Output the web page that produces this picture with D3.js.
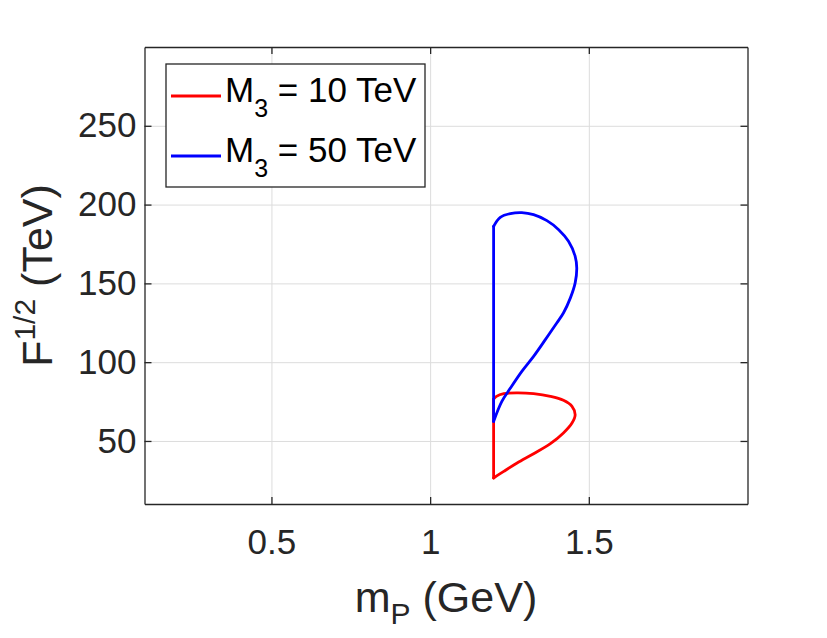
<!DOCTYPE html>
<html>
<head>
<meta charset="utf-8">
<script src="https://cdn.jsdelivr.net/npm/d3@7"></script>
<style>
  body { margin: 0; background: #fff; }
  text { font-family: "Liberation Sans", Arial, sans-serif; }
</style>
</head>
<body>
<div id="chart"></div>
<script>
// values
var xTicks = [0.5, 1, 1.5];
var yTicks = [50, 100, 150, 200, 250];

var seriesNames = ["10", "50"];

// M3 = 10 TeV
var redX = [1.2, 1.2, 1.209, 1.232, 1.274, 1.326, 1.379, 1.420, 1.447, 1.457, 1.447, 1.420, 1.379, 1.326, 1.274, 1.232, 1.2];
var redY = [26.5, 76.6, 78.3, 80.0, 80.5, 80.0, 78.3, 75.8, 72.0, 66.7, 61.4, 55.1, 48.3, 41.9, 36.0, 30.7, 26.5];

// M3 = 50 TeV
var blueX = [1.2, 1.2, 1.221, 1.253, 1.289, 1.326, 1.368, 1.405, 1.436, 1.457, 1.462, 1.457, 1.442, 1.420, 1.399, 1.363, 1.326, 1.289, 1.253, 1.226, 1.2];
var blueY = [62.4, 186.2, 191.9, 194.3, 194.9, 193.6, 189.8, 184.1, 176.7, 167.2, 159.8, 150.3, 140.8, 131.2, 124.9, 114.3, 103.7, 94.2, 83.6, 75.1, 62.4];

var svgWidth = 827;
var svgHeight = 638;

var margin = {
  top: 47,
  right: 79.5,
  bottom: 134,
  left: 144.5
};

var width = svgWidth - margin.left - margin.right;
var height = svgHeight - margin.top - margin.bottom;

var axisColor = "#262626";

var svg = d3
  .select("#chart")
  .append("svg")
  .attr("width", svgWidth)
  .attr("height", svgHeight);

svg.append("rect")
  .attr("width", svgWidth)
  .attr("height", svgHeight)
  .attr("fill", "#fff");

var chartGroup = svg.append("g")
  .attr("transform", `translate(${margin.left}, ${margin.top})`);

var xLinearScale = d3.scaleLinear().domain([0.1, 2]).range([0, width]);
var yLinearScale = d3.scaleLinear().domain([10, 300]).range([height, 0]);

// grid
chartGroup.append("g")
  .attr("transform", `translate(0, ${height})`)
  .call(d3.axisBottom(xLinearScale).tickValues(xTicks).tickSize(-height).tickFormat(""))
  .call(g => g.select(".domain").remove())
  .selectAll("line").attr("stroke", "#dcdcdc").attr("stroke-width", 1);

chartGroup.append("g")
  .call(d3.axisLeft(yLinearScale).tickValues(yTicks).tickSize(-width).tickFormat(""))
  .call(g => g.select(".domain").remove())
  .selectAll("line").attr("stroke", "#dcdcdc").attr("stroke-width", 1);

// curves: straight vertical edge, then a smooth loop back to the start
var straight = d3.line()
  .x(d => xLinearScale(d[0]))
  .y(d => yLinearScale(d[1]));

var smooth = d3.line()
  .x(d => xLinearScale(d[0]))
  .y(d => yLinearScale(d[1]))
  .curve(d3.curveCatmullRom.alpha(0.5));

function drawSeries(xs, ys, color) {
  var pts = xs.map((x, i) => [x, ys[i]]);
  chartGroup.append("path")
    .datum(pts.slice(0, 2))
    .attr("d", straight)
    .attr("fill", "none")
    .attr("stroke", color)
    .attr("stroke-width", 2.8)
    .attr("stroke-linecap", "round");
  chartGroup.append("path")
    .datum(pts.slice(1))
    .attr("d", smooth)
    .attr("fill", "none")
    .attr("stroke", color)
    .attr("stroke-width", 2.8)
    .attr("stroke-linecap", "round")
    .attr("stroke-linejoin", "round");
}

drawSeries(redX, redY, "#ff0000");
drawSeries(blueX, blueY, "#0000ff");

// axes, ticks pointing inward on all four sides
function styleAxis(g) {
  g.select(".domain").attr("stroke", axisColor).attr("stroke-width", 1.3);
  g.selectAll(".tick line").attr("stroke", axisColor).attr("stroke-width", 1.3);
  g.selectAll("text")
    .attr("fill", axisColor)
    .style("font-size", "35px")
    .style("font-family", "'Liberation Sans', Arial, sans-serif");
}

var xAxis = chartGroup.append("g")
  .attr("transform", `translate(0, ${height})`)
  .call(d3.axisBottom(xLinearScale).tickValues(xTicks).tickSizeInner(-7).tickSizeOuter(0)
    .tickPadding(25).tickFormat(d3.format("")))
  .call(styleAxis);

chartGroup.append("g")
  .call(d3.axisTop(xLinearScale).tickValues(xTicks).tickSizeInner(-7).tickSizeOuter(0).tickFormat(""))
  .call(styleAxis);

var yAxis = chartGroup.append("g")
  .call(d3.axisLeft(yLinearScale).tickValues(yTicks).tickSizeInner(-7).tickSizeOuter(0)
    .tickPadding(8))
  .call(styleAxis);

chartGroup.append("g")
  .attr("transform", `translate(${width}, 0)`)
  .call(d3.axisRight(yLinearScale).tickValues(yTicks).tickSizeInner(-7).tickSizeOuter(0).tickFormat(""))
  .call(styleAxis);

// axis labels
var xLabel = svg.append("text")
  .attr("x", margin.left + width / 2)
  .attr("y", 612)
  .attr("text-anchor", "middle")
  .attr("fill", axisColor)
  .style("font-size", "43px");
xLabel.append("tspan").text("m");
xLabel.append("tspan").attr("dy", 12).style("font-size", "30px").text("P");
xLabel.append("tspan").attr("dy", -12).text(" (GeV)");

var yLabel = svg.append("text")
  .attr("transform", `translate(52, ${margin.top + height / 2}) rotate(-90)`)
  .attr("text-anchor", "middle")
  .attr("fill", axisColor)
  .style("font-size", "43px");
yLabel.append("tspan").text("F");
yLabel.append("tspan").attr("dy", -17).style("font-size", "30px").text("1/2");
yLabel.append("tspan").attr("dy", 17).text(" (TeV)");

// legend
var legend = svg.append("g");

legend.append("rect")
  .attr("x", 166)
  .attr("y", 64)
  .attr("width", 259)
  .attr("height", 123)
  .attr("fill", "#fff")
  .attr("stroke", axisColor)
  .attr("stroke-width", 1.3);

var legendColors = ["#ff0000", "#0000ff"];
seriesNames.forEach(function(name, i) {
  var cy = 96 + i * 60;
  legend.append("line")
    .attr("x1", 171)
    .attr("x2", 221)
    .attr("y1", cy)
    .attr("y2", cy)
    .attr("stroke", legendColors[i])
    .attr("stroke-width", 2.8);
  var t = legend.append("text")
    .attr("x", 225)
    .attr("y", cy + 6)
    .attr("fill", "#000")
    .style("font-size", "35px");
  t.append("tspan").text("M");
  t.append("tspan").attr("dy", 15).style("font-size", "25px").text("3");
  t.append("tspan").attr("dy", -15).text(" = " + name + " TeV");
});
</script>
</body>
</html>
